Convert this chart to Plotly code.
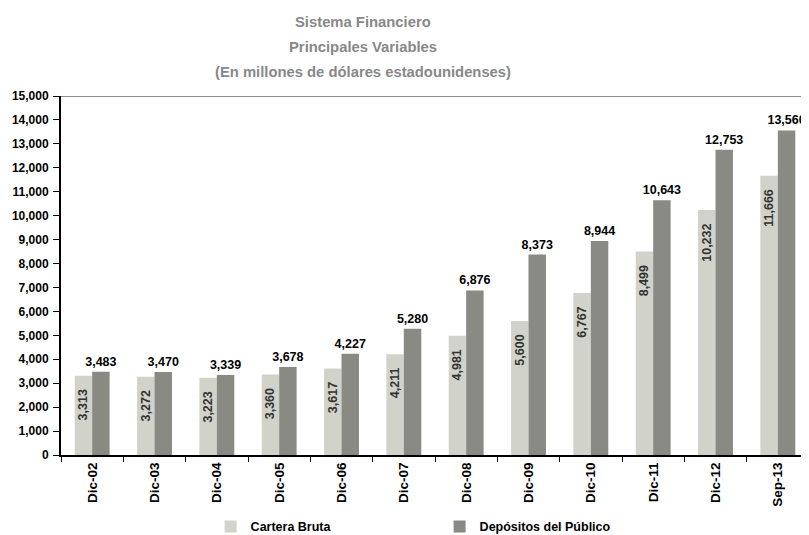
import plotly.graph_objects as go

categories = ["Dic-02", "Dic-03", "Dic-04", "Dic-05", "Dic-06", "Dic-07",
              "Dic-08", "Dic-09", "Dic-10", "Dic-11", "Dic-12", "Sep-13"]
cartera_bruta = [3313, 3272, 3223, 3360, 3617, 4211, 4981, 5600, 6767, 8499, 10232, 11666]
depositos = [3483, 3470, 3339, 3678, 4227, 5280, 6876, 8373, 8944, 10643, 12753, 13560]
title_lines = ["Sistema Financiero", "Principales Variables",
               "(En millones de dólares estadounidenses)"]

FONT = "Liberation Sans, Arial, sans-serif"
NB = "\u00a0"

fig = go.Figure()
fig.add_trace(go.Bar(
    name="Cartera Bruta", x=categories, y=cartera_bruta,
    marker=dict(color="#D1D2CA", line=dict(width=0)),
    text=[f"{v:,}" + NB * 3 for v in cartera_bruta],
    textposition="inside", insidetextanchor="end", textangle=-90,
    insidetextfont=dict(family=FONT, size=12.5, color="#333333", weight="bold"),
    constraintext="none",
    hoverinfo="skip",
))
fig.add_trace(go.Bar(
    name="Depósitos del Público", x=categories, y=depositos,
    marker=dict(color="#898A84", line=dict(width=0)),
    text=[f"{v:,}" for v in depositos],
    textposition="outside", textangle=0,
    outsidetextfont=dict(family=FONT, size=12.5, color="#000000", weight="bold"),
    constraintext="none",
    cliponaxis=False, hoverinfo="skip",
))

annotations = []
ys = [1.206, 1.136, 1.066]
for t, yy in zip(title_lines, ys):
    annotations.append(dict(
        text=t, x=0.404, y=yy, xref="paper", yref="paper",
        xanchor="center", yanchor="middle", showarrow=False,
        font=dict(family=FONT, size=14.8, color="#888888", weight="bold"),
    ))

fig.update_layout(
    width=801, height=527,
    margin=dict(l=53, r=0, t=88, b=80, autoexpand=False),
    paper_bgcolor="white", plot_bgcolor="white",
    barmode="group", bargap=0.44, bargroupgap=0,
    font=dict(family=FONT, color="#000000"),
    showlegend=True,
    legend=dict(
        orientation="h", x=0.2, y=-0.2, xanchor="left", yanchor="middle",
        entrywidth=184, entrywidthmode="pixels",
        font=dict(family=FONT, size=12.5, color="#000000", weight="bold"),
        bgcolor="rgba(0,0,0,0)",
    ),
    annotations=annotations,
    shapes=[dict(type="line", xref="paper", yref="y", x0=0, x1=1,
                 y0=15000, y1=15000, line=dict(color="#8C8C8C", width=2))],
)
fig.update_xaxes(
    showline=True, linecolor="#000000", linewidth=2,
    ticks="outside", ticklen=5, tickcolor="#000000", tickwidth=1,
    tickson="boundaries", tickangle=-90,
    tickfont=dict(family=FONT, size=13.5, color="#000000", weight="bold"),
    showgrid=False, zeroline=False,
)
fig.update_yaxes(
    range=[0, 15000], dtick=1000, tick0=0, tickformat=",d",
    showline=True, linecolor="#000000", linewidth=2,
    ticks="outside", ticklen=6, tickcolor="#000000", tickwidth=1,
    ticklabelstandoff=2,
    tickfont=dict(family=FONT, size=12, color="#000000", weight="bold"),
    showgrid=False, zeroline=False,
)

fig.write_html("out.html")
